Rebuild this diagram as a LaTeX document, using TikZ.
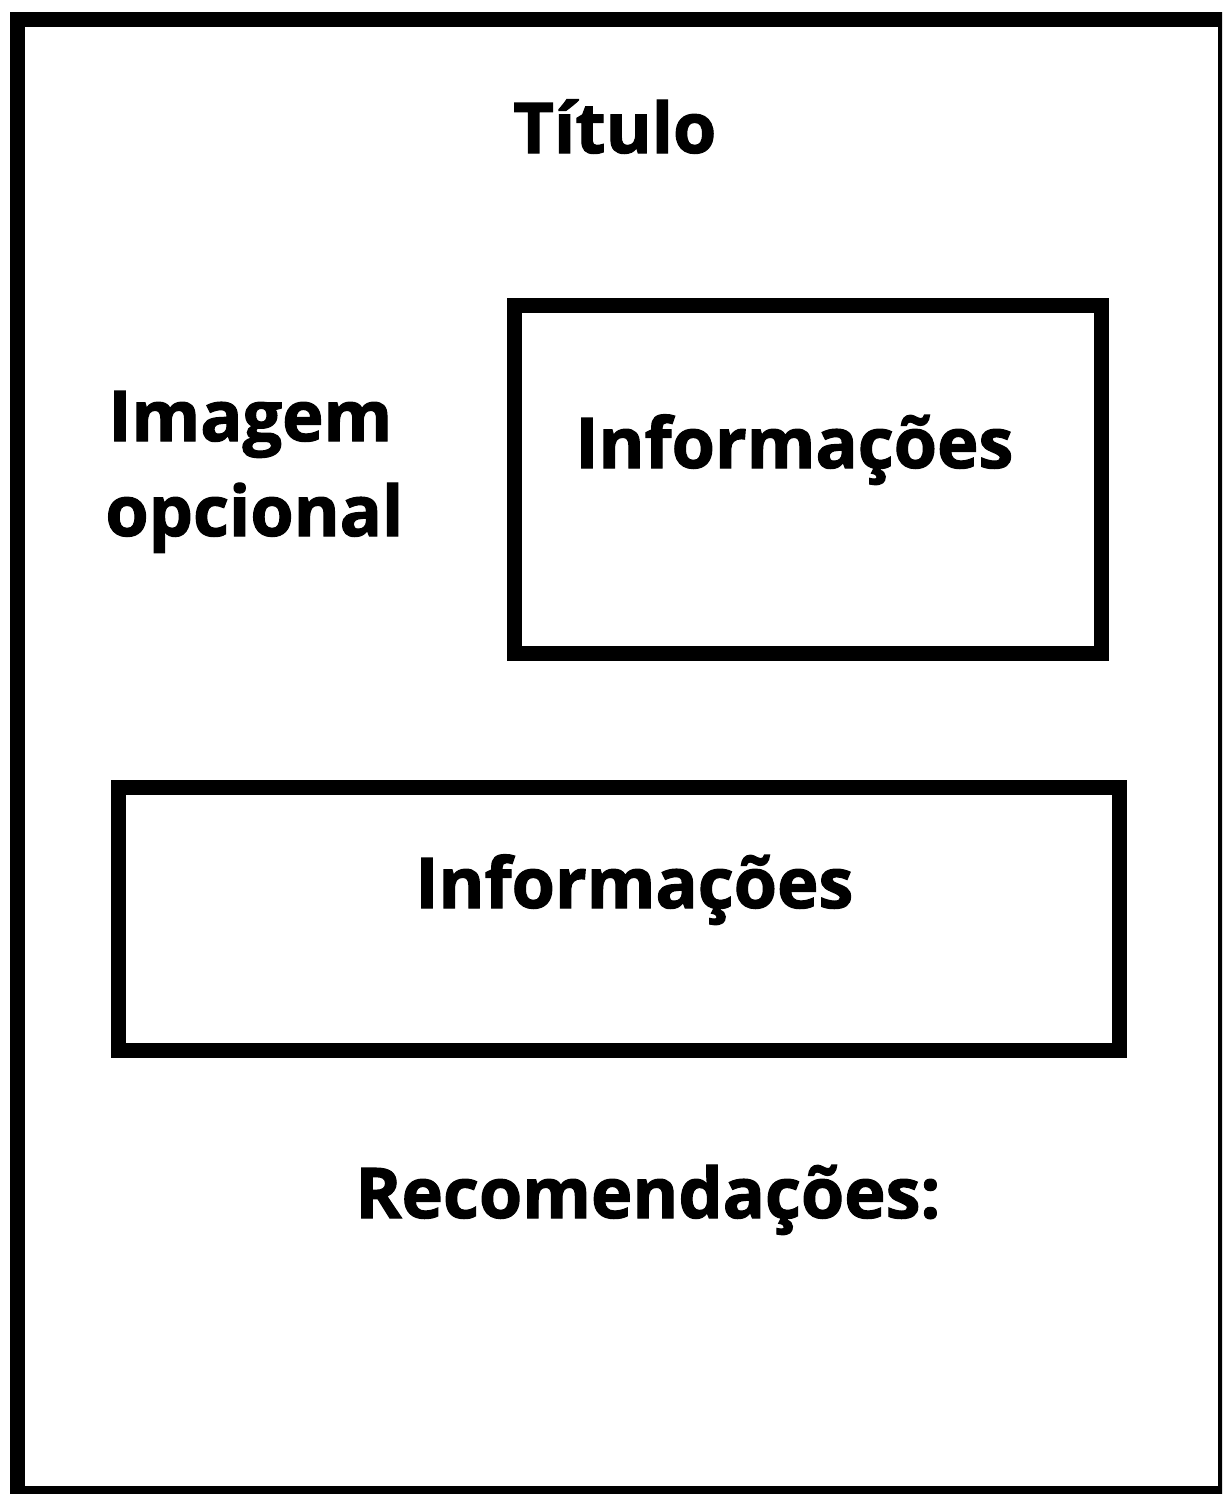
\documentclass[tikz,border=0pt]{standalone}
\usepackage{fontspec}
\setmainfont{Open Sans}[BoldFeatures={FakeBold=1.6}]
\begin{document}
\begin{tikzpicture}[x=0.5pt,y=-0.5pt,
  frame/.style={draw=black,line width=7.5pt,fill=none,outer sep=0pt,inner sep=0pt},
  label/.style={anchor=base west,inner sep=0pt,font=\fontsize{35}{42}\selectfont\bfseries}]
\useasboundingbox (0,0) rectangle (1222,1494);
\begin{scope}
\clip (0,0) rectangle (1222,1494);
\draw[frame] (17.5,19.5) rectangle (1225.5,1493.5);
\end{scope}
\node[frame,minimum width=293.5pt,minimum height=174.25pt,anchor=north west] (box1) at (514.5,305) {};
\node[frame,minimum width=500.75pt,minimum height=131.25pt,anchor=north west] (box2) at (118,787.5) {};
\node[label] (titulo) at (513,153) {Título};
\node[label] (img1) at (108,441) {Imagem};
\node[label] (img2) at (105,536) {opcional};
\node[label] (info1) at (575,468) {Informações};
\node[label] (info2) at (415,908) {Informações};
\node[label] (rec) at (355,1218) {Recomendações:};
\end{tikzpicture}
\end{document}
